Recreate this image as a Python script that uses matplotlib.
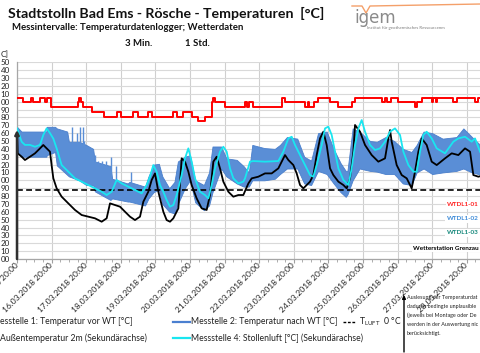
import matplotlib
matplotlib.use('Agg')
import matplotlib.pyplot as plt
import matplotlib.dates as mdates
import numpy as np
import pandas as pd

plt.rcParams['font.family'] = ['Lato', 'DejaVu Sans']
plt.rcParams['mathtext.fontset'] = 'custom'
plt.rcParams['mathtext.rm'] = 'Lato'

# ---------------- data (days since 15.03.2018 20:00, values in axis units) ----
red_days = [0.0, 0.18, 0.40, 0.47, 0.665, 0.81, 0.857, 0.98, 1.77, 1.80, 1.84, 1.92,
            2.16, 2.52, 2.88, 3.02, 3.36, 3.51, 3.80, 3.89, 4.52, 4.61, 4.81, 5.05,
            5.24, 5.43, 5.63, 5.67, 5.72, 6.01, 6.59, 6.65, 6.70, 6.83, 7.65, 7.75,
            8.32, 8.40, 8.45, 8.57, 8.71, 9.05, 9.29, 9.67, 9.77, 10.54, 10.64, 10.70,
            10.80, 11.02, 11.50, 11.55, 11.70, 11.98, 12.03, 12.10, 12.15, 12.61,
            12.71, 13.24, 13.33, 13.60]
red_vals = [205, 199, 205, 199, 205, 199, 205, 193, 199, 205, 199, 193,
            187, 181, 187, 181, 187, 181, 187, 181, 187, 181, 187, 181,
            175, 181, 199, 205, 199, 193, 199, 193, 199, 193, 205, 199,
            193, 199, 193, 199, 205, 199, 193, 199, 205, 199, 205, 199,
            205, 199, 193, 199, 205, 199, 205, 199, 205, 199,
            205, 199, 205, 205]

blue_days = [0.0, 0.13, 0.5, 0.85, 0.86, 1.1, 1.15, 1.45, 1.5, 1.8, 2.0, 2.2, 2.25,
             2.7, 2.75, 3.2, 3.25, 3.7, 3.8, 3.95, 4.1, 4.2, 4.4, 4.55, 4.65, 4.85,
             5.0, 5.15, 5.4, 5.55, 5.65, 5.9, 6.05, 6.35, 6.55, 6.7, 6.8, 7.15, 7.45,
             7.6, 7.8, 8.1, 8.3, 8.5, 8.7, 8.95, 9.15, 9.35, 9.5, 9.55, 9.7, 9.9,
             10.2, 10.4, 10.65, 10.9, 11.15, 11.4, 11.55, 11.75, 12.0, 12.3, 12.7,
             12.9, 13.15, 13.6]
blue_upper = [168, 162, 162, 162, 168, 168, 166, 162, 149, 149, 145, 140, 124,
              118, 102, 96, 98, 92, 105, 120, 121, 105, 90, 98, 124, 130,
              132, 100, 94, 110, 143, 143, 128, 126, 118, 110, 145, 141, 140,
              145, 155, 153, 130, 125, 160, 162, 140, 122, 112, 112, 166, 162,
              150, 149, 155, 150, 140, 136, 145, 162, 160, 153, 155,
              166, 155, 136]
blue_lower = [135, 130, 130, 130, 132, 136, 119, 107, 105, 100, 94, 94, 86,
              75, 77, 73, 73, 68, 77, 85, 88, 70, 60, 58, 70, 90,
              100, 72, 62, 68, 85, 115, 105, 96, 92, 92, 100, 100, 102,
              108, 115, 115, 96, 94, 112, 108, 96, 85, 79, 82, 100, 115,
              112, 111, 108, 108, 96, 94, 110, 115, 108, 110, 112,
              115, 110, 105]
spike_days = [1.58, 1.72, 1.82, 1.90, 1.95, 2.15, 2.25, 2.35, 2.45, 2.58, 2.73, 2.85, 3.30]
spike_top = [168, 160, 168, 168, 150, 136, 132, 124, 124, 124, 130, 118, 111]
spike_low = [105, 100, 100, 98, 96, 94, 90, 84, 82, 80, 77, 77, 73]

cyan_days = [0.0, 0.135, 0.23, 0.375, 0.52, 0.665, 0.76, 0.857, 0.953, 1.05, 1.146,
             1.29, 1.483, 1.676, 1.869, 2.061, 2.254, 2.447, 2.591, 2.736, 2.88,
             3.025, 3.218, 3.41, 3.603, 3.747, 3.844, 3.94, 4.036, 4.133, 4.229,
             4.325, 4.422, 4.518, 4.614, 4.759, 4.855, 4.952, 5.048, 5.144, 5.289,
             5.433, 5.53, 5.626, 5.722, 5.867, 5.963, 6.06, 6.156, 6.252, 6.397,
             6.541, 6.59, 6.735, 6.83, 7.168, 7.553, 7.698, 7.842, 7.939, 8.035,
             8.18, 8.324, 8.469, 8.565, 8.661, 8.806, 8.902, 8.998, 9.095, 9.191,
             9.288, 9.432, 9.576, 9.673, 9.769, 9.866, 9.962, 10.058, 10.203,
             10.347, 10.492, 10.636, 10.781, 10.925, 11.07, 11.166, 11.311, 11.455,
             11.551, 11.648, 11.744, 11.84, 11.985, 12.13, 12.37, 12.611, 12.756,
             12.948, 13.141, 13.237, 13.382, 13.5]
cyan_vals = [166, 149, 145, 145, 142.7, 145, 157.6, 166, 160, 153, 140.6,
             119.4, 111, 102.5, 98.3, 94, 89.8, 85.5, 81.3, 85.5, 100.4,
             96.1, 91.9, 87.7, 83.4, 94, 104.6, 119.4, 111, 94, 85.5,
             75, 66.5, 68.6, 81.3, 106.7, 127.9, 140.6, 123.7, 102.5, 85.5,
             81.3, 77.1, 94, 115.2, 136.4, 142.7, 136.4, 115.2, 102.5, 96.1,
             98.3, 102.5, 123.7, 124.5, 123.7, 124.5, 136.4, 153.3, 155.4, 144.9,
             132.1, 119.4, 106.7, 104.6, 119.4, 144.9, 166, 168.2, 157.6, 136.4,
             115.2, 100.4, 94, 115.2, 144.9, 166, 176.6, 161.8, 144.9,
             138.5, 140.6, 149.1, 161.8, 166, 157.6, 136.4, 119.4, 111,
             111, 136.4, 157.6, 161.8, 153.3, 140.6, 134.3, 149.1, 153.3,
             155.4, 149.1, 153.3, 136.4, 128]

black_days = [0.0, 0.02, 0.135, 0.23, 0.375, 0.52, 0.665, 0.76, 0.857, 0.953, 1.0,
              1.05, 1.146, 1.29, 1.483, 1.676, 1.869, 2.061, 2.254, 2.447, 2.591,
              2.688, 2.832, 2.977, 3.121, 3.266, 3.41, 3.555, 3.651, 3.795, 3.892,
              3.988, 4.085, 4.229, 4.325, 4.422, 4.518, 4.663, 4.759, 4.855, 4.952,
              5.048, 5.192, 5.337, 5.481, 5.578, 5.674, 5.77, 5.867, 5.963, 6.108,
              6.252, 6.397, 6.541, 6.686, 6.783, 6.975, 7.168, 7.36, 7.553, 7.65,
              7.746, 7.842, 7.987, 8.083, 8.18, 8.276, 8.372, 8.469, 8.565, 8.661,
              8.758, 8.854, 8.95, 9.047, 9.143, 9.288, 9.432, 9.528, 9.625, 9.721,
              9.769, 9.914, 10.058, 10.251, 10.443, 10.636, 10.733, 10.781, 10.829,
              10.973, 11.118, 11.263, 11.407, 11.503, 11.6, 11.696, 11.84, 11.985,
              12.13, 12.37, 12.563, 12.756, 12.948, 13.093, 13.189, 13.334, 13.5]
black_vals = [163.9, 134.3, 130, 125.8, 130, 134.3, 140.6, 144.9, 140.6, 136.4, 119.4,
              102.5, 89.8, 79.2, 70.7, 62.3, 55.9, 53.8, 51.7, 47.4, 51.7,
              70.7, 68.6, 66.5, 60.1, 53.8, 49.5, 53.8, 72.8, 85.5, 100.4,
              108.8, 85.5, 60.1, 49.5, 47.4, 51.7, 64.4, 127.9, 123.7, 111,
              94, 77.1, 64.4, 62.3, 81.3, 123.7, 130, 115.2, 98.3, 85.5,
              79.2, 81.3, 81.3, 96, 102.5, 104.6, 108.8, 108.8, 115.2, 123.7,
              132.1, 125.8, 119.4, 108.8, 94, 89.8, 94, 98.3, 106.7, 132.1,
              153.3, 161.8, 144.9, 115.2, 106.7, 98.3, 94, 89.8, 102.5, 136.4,
              170.3, 161.8, 144.9, 132.1, 123.7, 127.9, 153.3, 163.9, 149.1,
              119.4, 106.7, 102.5, 89.8, 111, 136.4, 153.3, 144.9, 123.7,
              119.4, 127.9, 134.3, 132.1, 140.6, 136.4, 106.7, 104.6, 106.7]

t_luft_level = 88
y_ticks = list(range(0, 251, 10))
y_ticklabels = ["%02d" % (v % 100) for v in y_ticks]

# ---------------- figure ----------------
W, H = 481, 353
fig = plt.figure(figsize=(W / 100, H / 100), dpi=100)


def fx(px):
    return px / W


def fy(py):
    return 1 - py / H


ax = fig.add_axes([fx(17), fy(259), fx(481) - fx(17), fy(62.3) - fy(259)])

base = pd.Timestamp('2018-03-15 20:00')


def T(days):
    return base + pd.to_timedelta(np.asarray(days, dtype=float), unit='D')


blue_col = '#5a8ed6'
ax.fill_between(T(blue_days), blue_lower, blue_upper, color=blue_col, lw=0.6,
                edgecolor='#4a7fcc', zorder=2)
ax.vlines(T(spike_days), spike_low, spike_top, color=blue_col, lw=1.0, zorder=2)
ax.step(T(red_days), red_vals, where='post', color='#ff0000', lw=1.4, zorder=3)
ax.axhline(t_luft_level, color='black', lw=1.2, ls=(0, (3.5, 2)), zorder=3)
ax.plot(T(black_days), black_vals, color='black', lw=1.3, zorder=4)
ax.plot(T(cyan_days), cyan_vals, color='#19e6f0', lw=1.3, zorder=5)

ax.annotate('', xy=(T([0.0])[0], 164), xytext=(T([0.0])[0], 0),
            arrowprops=dict(arrowstyle='-|>', color='#303030', lw=1.8,
                            mutation_scale=6, shrinkA=0, shrinkB=0),
            annotation_clip=False, zorder=6)

ax.set_xlim(base, T([13.41])[0])
ax.set_ylim(0, 250)
ax.set_yticks(y_ticks)
ax.set_yticklabels(y_ticklabels)
ax.tick_params(axis='y', length=0, labelsize=5.8, pad=5.0, labelcolor='#222222')

ax.xaxis.set_major_locator(mdates.HourLocator(byhour=[20]))
ax.xaxis.set_minor_locator(mdates.HourLocator(byhour=[2, 8, 14]))
ax.xaxis.set_major_formatter(mdates.DateFormatter('%d.%m.%Y %H:%M'))
ax.tick_params(axis='x', which='major', length=3, color='#a0a0a0', labelsize=6,
               pad=0.5, labelcolor='#222222')
ax.tick_params(axis='x', which='minor', length=2, color='#a0a0a0')
for lab in ax.get_xticklabels():
    lab.set_rotation(45)
    lab.set_ha('right')
    lab.set_va('center')
    lab.set_rotation_mode('anchor')

ax.grid(axis='y', color='#d9d9d9', lw=0.8, zorder=0)
ax.grid(axis='x', which='major', color='#cfcfcf', lw=0.8, zorder=0)
ax.set_axisbelow(True)
for s in ['top', 'right']:
    ax.spines[s].set_visible(False)
ax.spines['left'].set_color('#a6a6a6')
ax.spines['bottom'].set_color('#a6a6a6')
ax.spines['left'].set_linewidth(0.9)
ax.spines['bottom'].set_linewidth(0.9)


def axpos(px, py):
    return ((px - 17) / 464, (259 - py) / 196.7)


box = dict(facecolor='white', edgecolor='none', pad=1.2)
for txt, col, py in [('WTDL1-01', '#ff2020', 205), ('WTDL1-02', '#3c8ad8', 219),
                     ('WTDL1-03', '#12877a', 233)]:
    x0, y0 = axpos(479, py)
    ax.text(x0, y0, txt, color=col, fontsize=4.6, fontweight='bold',
            transform=ax.transAxes, va='center', ha='right', bbox=box, zorder=7)
x0, y0 = axpos(479, 248)
ax.text(x0, y0, 'Wetterstation Grenzau', color='black', fontsize=4.6,
        fontweight='bold', transform=ax.transAxes, va='center', ha='right',
        bbox=box, zorder=7)

# ---------------- overlay for texts in pixel coordinates -----------------
ov = fig.add_axes([0, 0, 1, 1], zorder=10)
ov.set_xlim(0, W)
ov.set_ylim(H, 0)
ov.axis('off')

ov.text(8, 13.5, 'Stadtstolln Bad Ems - Rösche - Temperaturen  [°C]', fontsize=10.2,
        fontweight='bold', va='center', ha='left', color='#111111')
ov.text(12, 28, 'Messintervalle: Temperaturdatenlogger; Wetterdaten', fontsize=6.9,
        fontweight='bold', va='center', ha='left', color='#111111')
ov.text(125, 43, '3 Min.', fontsize=6.9, fontweight='bold', va='center', ha='left',
        color='#111111')
ov.text(185, 43, '1 Std.', fontsize=6.9, fontweight='bold', va='center', ha='left',
        color='#111111')
ov.text(0.5, 55, 'C]', fontsize=6.0, va='center', ha='left', color='#222222')

# logo
ov.plot([352, 362, 366, 370, 481], [6, 6, 13, 6, 4], color='#f4a06a', lw=1.0,
        clip_on=True)
ov.text(354, 18, 'igem', fontsize=12, family='DejaVu Sans', color='#8a8a8a',
        va='center', ha='left')
ov.text(367, 28.5, 'Institut für geothermisches Ressourcenm', fontsize=3.2,
        color='#7f7f7f', va='center', ha='left')

# bottom legend
lfs = 6.2
ov.text(0.5, 322, 'esstelle 1: Temperatur vor WT [°C]', fontsize=lfs, va='center',
        ha='left', color='#222222')
ov.plot([173, 190], [322, 322], color='#4a7fd0', lw=1.6)
ov.text(191, 322, 'Messtelle 2: Temperatur nach WT [°C]', fontsize=lfs,
        va='center', ha='left', color='#222222')
ov.plot([343, 356], [322, 322], color='black', lw=1.0, ls=(0, (2, 1.2)))
ov.text(359, 322, r'T$_{\mathrm{LUFT}}$  0 °C', fontsize=lfs, va='center',
        ha='left', color='#222222')
ov.text(0.5, 338, 'Außentemperatur 2m (Sekundärachse)', fontsize=lfs, va='center',
        ha='left', color='#222222')
ov.plot([173, 190], [338, 338], color='#19e6f0', lw=1.6)
ov.text(191, 338, 'Messstelle 4: Stollenluft [°C] (Sekundärachse)', fontsize=lfs,
        va='center', ha='left', color='#222222')

# note with arrow
ov.annotate('', xy=(404, 295), xytext=(404, 352),
            arrowprops=dict(arrowstyle='-|>', color='black', lw=1.0,
                            mutation_scale=5, shrinkA=0, shrinkB=0))
note = ['Auslesung der Temperaturdat',
        'dadurch bedingte unplausible',
        '(jeweils bei Montage oder De',
        'werden in der Auswertung nic',
        'berücksichtigt.']
for i, line in enumerate(note):
    ov.text(407, 297 + i * 9.2, line, fontsize=3.9, va='center', ha='left',
            color='#222222')

fig.savefig('out.png', dpi=100)
